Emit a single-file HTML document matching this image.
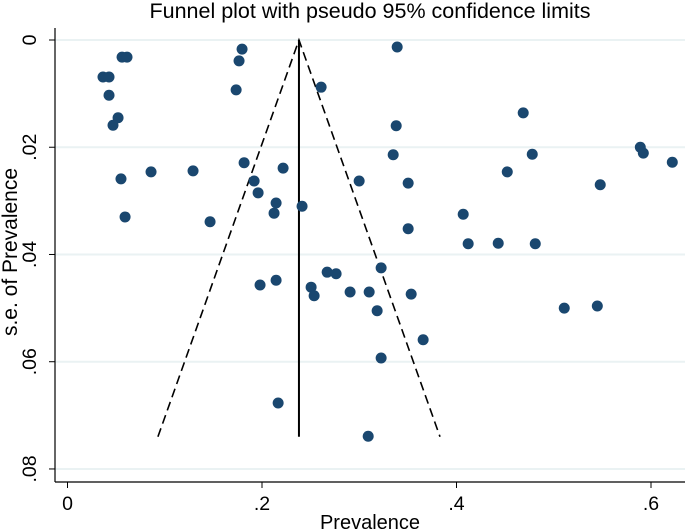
<!DOCTYPE html>
<html><head><meta charset="utf-8"><style>
html,body{margin:0;padding:0;background:#fff;}
svg{display:block;font-family:"Liberation Sans",Arial,sans-serif;}
</style></head><body>
<svg id="chart" width="685" height="531" viewBox="0 0 685 531" xmlns="http://www.w3.org/2000/svg">
<text x="370" y="18" font-size="21.5" text-anchor="middle" fill="#000">Funnel plot with pseudo 95% confidence limits</text>
<g id="grid"></g><g id="axes"></g><g id="funnel"></g><g id="points"></g>
<text x="370" y="529" font-size="20" text-anchor="middle" fill="#000">Prevalence</text>
<text transform="translate(17,252) rotate(-90)" font-size="21" text-anchor="middle" fill="#000">s.e. of Prevalence</text>
</svg>
<script>
const xTicks=[0,0.2,0.4,0.6];
const xTickLabels=["0",".2",".4",".6"];
const yTicks=[0,0.02,0.04,0.06,0.08];
const yTickLabels=["0",".02",".04",".06",".08"];
const pooledPrevalence=0.238;
const funnelMaxSe=0.074;
const prevalence=[.0365,.0427,.0427,.0520,.0468,.0561,.0612,.0550,.0592,.0859,.1291,.1466,.1734,.1764,.1795,.1816,.1919,.1960,.2217,.2145,.2124,.2412,.2608,.1980,.2145,.2505,.2536,.2670,.2762,.2906,.3102,.3225,.3184,.3534,.3657,.3225,.3092,.2166,.5108,.5448,.3390,.4686,.3380,.3349,.4779,.5890,.5921,.6219,.2999,.3503,.4522,.5478,.4069,.3503,.4120,.4429,.4810];
const seValues=[.0069,.0069,.0103,.0145,.0159,.0032,.0032,.0259,.0330,.0246,.0244,.0339,.0093,.0039,.0017,.0229,.0263,.0285,.0239,.0304,.0323,.0310,.0088,.0457,.0448,.0461,.0477,.0433,.0436,.0470,.0470,.0425,.0505,.0474,.0559,.0593,.0739,.0677,.0500,.0496,.0013,.0136,.0160,.0214,.0213,.0200,.0211,.0228,.0263,.0267,.0246,.0270,.0325,.0352,.0380,.0379,.0380];

const NS="http://www.w3.org/2000/svg";
const X=v=>67.5+v*972.5;
const Y=v=>40+v*5362;
const L=55,B=482,R=685,T=28;
function mk(tag,attrs,parent){const e=document.createElementNS(NS,tag);for(const k in attrs)e.setAttribute(k,attrs[k]);parent.appendChild(e);return e;}
const grid=document.getElementById('grid'),axes=document.getElementById('axes'),funnel=document.getElementById('funnel'),pts=document.getElementById('points');
yTicks.forEach((t,i)=>{
  const g=mk('line',{x1:L,x2:R,y1:Y(t),y2:Y(t),stroke:'#eaf2f3','stroke-width':2},grid);
  
  
  const tk=mk('line',{x1:L-6,x2:L,y1:Y(t),y2:Y(t),stroke:'#000','stroke-width':1},axes);
  
  
  const tx=mk('text',{transform:`translate(36,${Y(t)}) rotate(-90)`,'font-size':19.5,'text-anchor':'middle',fill:'#000'},axes);
  tx.textContent=yTickLabels[i];
  
  
});
xTicks.forEach((t,i)=>{
  const tk=mk('line',{x1:X(t),x2:X(t),y1:B,y2:B+6,stroke:'#000','stroke-width':1},axes);
  
  
  const tx=mk('text',{x:X(t),y:510,'font-size':19.5,'text-anchor':'middle',fill:'#000'},axes);
  tx.textContent=xTickLabels[i];
  
  
});
const ya=mk('line',{x1:L,x2:L,y1:T,y2:B,stroke:'#000','stroke-width':1.2},axes);


const xa=mk('line',{x1:L,x2:R,y1:B,y2:B,stroke:'#000','stroke-width':1.2},axes);


const half=1.96*funnelMaxSe;
const fl=mk('polyline',{points:`${X(pooledPrevalence-half)},${Y(funnelMaxSe)} ${X(pooledPrevalence)},${Y(0)} ${X(pooledPrevalence+half)},${Y(funnelMaxSe)}`,fill:'none',stroke:'#000','stroke-width':1.6,'stroke-dasharray':'9,5'},funnel);


const ml=mk('line',{x1:X(pooledPrevalence),x2:X(pooledPrevalence),y1:Y(0),y2:Y(funnelMaxSe),stroke:'#000','stroke-width':2},funnel);


prevalence.forEach((p,i)=>{
  const c=mk('circle',{cx:X(p),cy:Y(seValues[i]),r:5.5,fill:'#1a476f'},pts);
  
  
});
</script>
</body></html>
